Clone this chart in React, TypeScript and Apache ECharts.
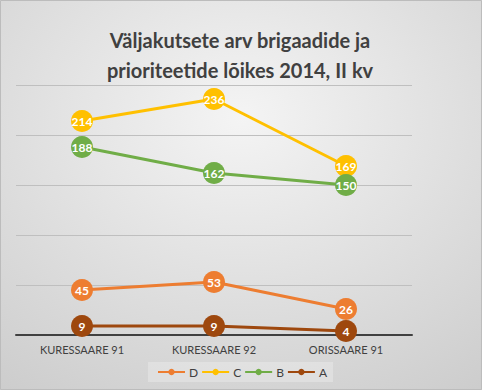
import React, { useEffect, useRef } from "react";
import * as echarts from "echarts";

const categories = ["KURESSAARE 91", "KURESSAARE 92", "ORISSAARE 91"];
const seriesNames = ["D", "C", "B", "A"];
const valuesD = [45, 53, 26];
const valuesC = [214, 236, 169];
const valuesB = [188, 162, 150];
const valuesA = [9, 9, 4];
const colors = ["#ED7D31", "#FFC000", "#70AD47", "#9E480E"];
const titleText = "Väljakutsete arv brigaadide ja\nprioriteetide lõikes 2014, II kv";

const FONT = "Lato, 'Open Sans', sans-serif";

export default function App() {
  const ref = useRef<HTMLDivElement>(null);
  useEffect(() => {
    if (!ref.current) return;
    const chart = echarts.init(ref.current, undefined, { renderer: "svg" });
    const data = [valuesD, valuesC, valuesB, valuesA];
    chart.setOption({
      animation: false,
      backgroundColor: new echarts.graphic.RadialGradient(0.5, 0.3, 0.85, [
        { offset: 0, color: "#f4f4f4" },
        { offset: 1, color: "#cdcdcd" },
      ]),
      textStyle: { fontFamily: FONT },
      title: {
        text: titleText,
        left: 235,
        textAlign: "center",
        top: 20,
        textStyle: {
          fontFamily: FONT,
          fontSize: 20,
          fontWeight: "bold",
          color: "#404040",
          lineHeight: 30,
        },
      },
      graphic: [
        {
          type: "rect",
          shape: { x: 0.5, y: 0.5, width: 481, height: 389 },
          style: { fill: "none", stroke: "#bcbcbc", lineWidth: 1 },
          silent: true,
        },
      ],
      legend: {
        data: seriesNames,
        left: 148,
        top: 362,
        padding: [4, 6, 4, 9],
        backgroundColor: "rgba(255,255,255,0.25)",
        itemWidth: 27,
        itemHeight: 8,
        itemGap: 3,
        textStyle: { fontFamily: FONT, fontSize: 12, color: "#404040", padding: [0, 0, 0, -1] },
      },
      grid: { left: 16, right: 70, top: 85, bottom: 55, containLabel: false },
      xAxis: {
        type: "category",
        data: categories,
        boundaryGap: true,
        axisLine: { lineStyle: { color: "#404040", width: 2 } },
        axisTick: { show: false },
        axisLabel: { color: "#404040", fontSize: 11, margin: 9, fontFamily: FONT },
      },
      yAxis: {
        type: "value",
        min: 0,
        max: 250,
        interval: 50,
        axisLabel: { show: false },
        axisLine: { show: false },
        axisTick: { show: false },
        splitLine: { lineStyle: { color: "#bfbfbf", width: 1 } },
      },
      series: seriesNames.map((name, i) => ({
        name,
        type: "line",
        data: data[i],
        symbol: "circle",
        symbolSize: 22,
        color: colors[i],
        lineStyle: { width: 3, color: colors[i] },
        itemStyle: { color: colors[i] },
        label: {
          show: true,
          position: "inside",
          color: "#ffffff",
          fontSize: 12,
          fontWeight: "bold",
          fontFamily: FONT,
        },
        z: 2 + i,
      })),
    });
    return () => chart.dispose();
  }, []);
  return <div ref={ref} style={{ width: 482, height: 390, position: "absolute", left: 0, top: 0 }} />;
}
